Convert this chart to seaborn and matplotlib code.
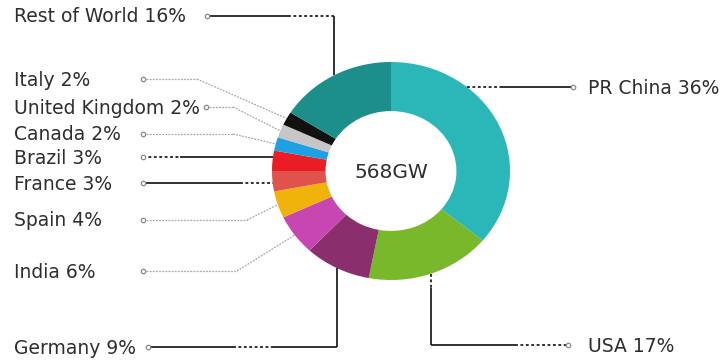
import numpy as np
import matplotlib
matplotlib.use("Agg")
import matplotlib.pyplot as plt
import seaborn as sns

# ---- data ----
countries = ["PR China", "USA", "Germany", "India", "Spain", "France",
             "Brazil", "Canada", "United Kingdom", "Italy", "Rest of World"]
shares = [36, 17, 9, 6, 4, 3, 3, 2, 2, 2, 16]
colors = ["#2BB7B7", "#79B82B", "#8A2E6E", "#C746B2", "#F0B30A", "#E0524C",
          "#EC1C24", "#1EA0E2", "#C6C6C6", "#111111", "#1C8F8A"]
total_label = "568GW"

sns.set_theme(style="white")
plt.rcParams['font.family'] = ['DejaVu Sans']

W, H = 720, 361
fig = plt.figure(figsize=(W / 100, H / 100), dpi=100)
fig.patch.set_facecolor("white")

# ring geometry (pixels)
cx, cy, rx, ry = 391, 171, 119, 109

pax = fig.add_axes([(cx - rx) / W, 1 - (cy + ry) / H, 2 * rx / W, 2 * ry / H])
pax.pie(shares, colors=colors, startangle=90, counterclock=False, radius=1,
        wedgeprops=dict(width=0.45, linewidth=0))
pax.set_aspect('auto')
pax.set_xlim(-1, 1)
pax.set_ylim(-1, 1)
pax.axis('off')

ax = fig.add_axes([0, 0, 1, 1], facecolor="none")
ax.set_xlim(0, W)
ax.set_ylim(H, 0)
ax.axis('off')

# mid angles of wedges -> anchor points on outer edge
cum = np.cumsum([0] + shares[:-1])
mid = 90 - (cum + np.array(shares) / 2) * 3.6
anchor = {c: (cx + rx * np.cos(np.radians(a)), cy - ry * np.sin(np.radians(a)))
          for c, a in zip(countries, mid)}

def edge_x(y, side=-1):
    return cx + side * rx * np.sqrt(max(0.0, 1 - ((y - cy) / ry) ** 2))

BLK = dict(color="#222222", lw=1.3, solid_capstyle="butt")
DOT = dict(color="#222222", lw=1.3, linestyle=(0, (1.6, 1.4)))
GRY = dict(color="#a8a8a8", lw=0.9, linestyle=(0, (1.5, 1.0)))

def seg(p, q, st):
    ax.plot([p[0], q[0]], [p[1], q[1]], **st, zorder=3)

def marker(x, y):
    ax.plot([x], [y], marker="o", ms=3.2, mfc="white", mec="#8a8a8a", mew=0.9, zorder=4)

text_kw = dict(fontsize=13.5, color="#2e2e2e", va="center")

def label(name, x, y, ha="left"):
    i = countries.index(name)
    ax.text(x, y, f"{name} {shares[i]}%", ha=ha, **text_kw)

# Rest of World
ax_, ay_ = anchor["Rest of World"]
y = 16
seg((207, y), (288, y), BLK); seg((288, y), (ax_, y), DOT); seg((ax_, y), (ax_, ay_), BLK)
marker(207, y); label("Rest of World", 14, y + 1)

# Italy, UK, Canada, Spain, India (grey elbow lines)
for name, y, mx, ex in [("Italy", 79, 143, 197), ("United Kingdom", 107, 206, 233),
                        ("Canada", 134, 143, 233), ("Spain", 220, 143, 247),
                        ("India", 271, 143, 237)]:
    a = anchor[name]
    seg((mx, y), (ex, y), GRY); seg((ex, y), a, GRY)
    marker(mx, y); label(name, 14, y + 1)

# Brazil
y = 157
seg((143, y), (180, y), DOT); seg((180, y), (edge_x(y), y), BLK)
marker(143, y); label("Brazil", 14, y + 1)

# France
y = 183
seg((143, y), (240, y), BLK); seg((240, y), (edge_x(y), y), DOT)
marker(143, y); label("France", 14, y + 1)

# Germany
gx, gy = anchor["Germany"]
y = 347
seg((148, y), (233, y), BLK); seg((233, y), (272, y), DOT); seg((272, y), (gx, y), BLK)
seg((gx, y), (gx, gy), BLK)
marker(148, y); label("Germany", 14, y + 1)

# PR China
y = 87
seg((edge_x(y, 1), y), (500, y), DOT); seg((500, y), (573, y), BLK)
marker(573, y); label("PR China", 588, y + 1)

# USA
ux, uy = anchor["USA"]
y = 345
seg((ux, uy), (ux, uy + 14), DOT); seg((ux, uy + 14), (ux, y), BLK)
seg((ux, y), (515, y), BLK); seg((515, y), (567, y), DOT)
marker(568, y); label("USA", 588, y + 1)

ax.text(cx, cy + 1, total_label, ha="center", va="center", fontsize=14.5, color="#2e2e2e")

fig.savefig("out.png", dpi=100, facecolor="white")
